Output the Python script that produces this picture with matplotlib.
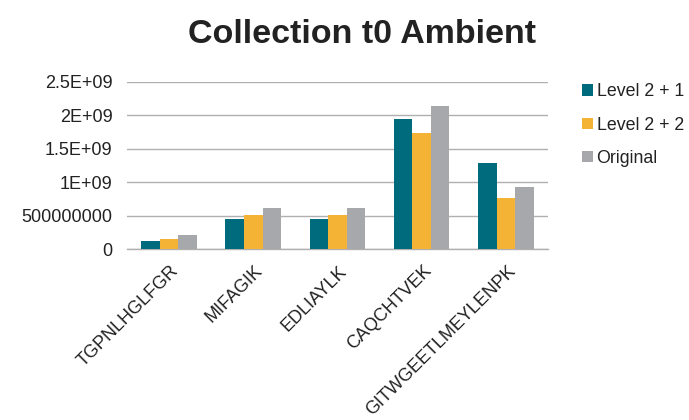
import matplotlib
matplotlib.use("Agg")
import matplotlib.pyplot as plt
import matplotlib.transforms as mtransforms
import numpy as np

plt.rcParams['font.family'] = ['Liberation Sans', 'DejaVu Sans']

peptides = ["TGPNLHGLFGR", "MIFAGIK", "EDLIAYLK", "CAQCHTVEK", "GITWGEETLMEYLENPK"]
level_2_1 = [0.124e9, 0.443e9, 0.443e9, 1.945e9, 1.279e9]
level_2_2 = [0.154e9, 0.502e9, 0.502e9, 1.741e9, 0.761e9]
original = [0.214e9, 0.617e9, 0.617e9, 2.144e9, 0.930e9]
series_names = ["Level 2 + 1", "Level 2 + 2", "Original"]
colors = ["#006B7D", "#F5B335", "#A7A8AB"]
y_ticks = [0, 0.5e9, 1.0e9, 1.5e9, 2.0e9, 2.5e9]
y_tick_labels = ["0", "500000000", "1E+09", "1.5E+09", "2E+09", "2.5E+09"]

fig = plt.figure(figsize=(6.89, 4.2), dpi=100)
ax = fig.add_axes([0.1843, 0.407, 0.611, 0.3985])

x = np.arange(len(peptides))
w = 0.22
for i, (vals, name, c) in enumerate(zip([level_2_1, level_2_2, original], series_names, colors)):
    ax.bar(x + (i - 1) * w, vals, width=w, color=c, label=name, zorder=3)

ax.set_xlim(-0.5, len(peptides) - 0.5)
ax.set_ylim(0, 2.5e9)
ax.set_yticks(y_ticks)
ax.set_yticklabels(y_tick_labels, fontsize=13, color="#222222")
ax.set_xticks(x)
ax.set_xticklabels(peptides, rotation=45, ha="right", va="center", rotation_mode="anchor",
                   fontsize=13, color="#222222")
ax.tick_params(axis="y", length=0, pad=10.5)
ax.tick_params(axis="x", length=0, pad=14)
# nudge the rotated category labels slightly to the right
shift = mtransforms.ScaledTranslation(7 / 100, 0, fig.dpi_scale_trans)
for lbl in ax.get_xticklabels():
    lbl.set_transform(lbl.get_transform() + shift)
ax.yaxis.grid(True, color="#B0B0B0", linewidth=1.0, zorder=0)
for s in ["left", "right", "top"]:
    ax.spines[s].set_visible(False)
ax.spines["bottom"].set_color("#B0B0B0")
ax.spines["bottom"].set_linewidth(1.0)

fig.text(0.526, 0.918, "Collection t0 Ambient", ha="center", va="center",
         fontsize=24.5, fontweight="bold", color="#222222")

leg = fig.legend(loc="upper left", bbox_to_anchor=(0.840, 0.810), frameon=False,
                 fontsize=12.8, handlelength=0.6, handleheight=0.6, handletextpad=0.2,
                 labelspacing=0.92, borderaxespad=0, borderpad=0.2)
for t in leg.get_texts():
    t.set_color("#222222")

fig.savefig("out.png", dpi=100)
